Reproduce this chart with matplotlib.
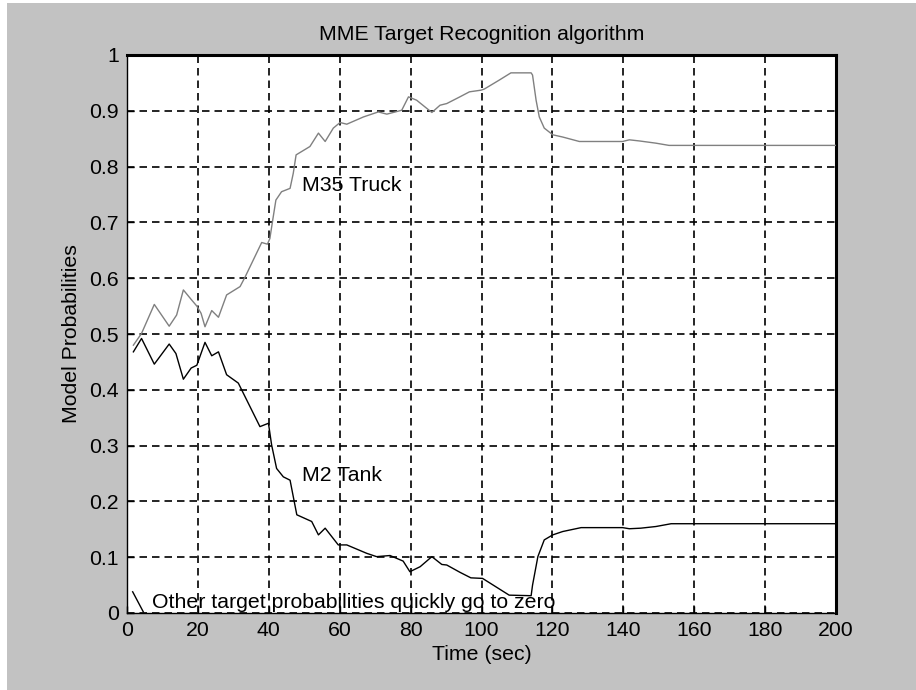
import matplotlib
matplotlib.use('Agg')
import matplotlib.pyplot as plt
from matplotlib.patches import Rectangle

# values
t_truck = [1.8, 4.1, 7.7, 11.9, 14.0, 15.9, 18.1, 19.7, 20.9, 22.0, 23.9, 25.8, 28.1, 31.9, 33.3,
           38.0, 39.6, 40.3, 41.1, 42.0, 43.6, 46.0, 46.9, 47.7, 51.6, 54.0, 55.9, 58.2, 60.1, 62.0,
           66.7, 70.9, 73.3, 77.5, 79.4, 81.7, 86.0, 88.3, 90.2, 93.9, 96.6, 99.9, 100.8, 105.0, 108.3,
           114.0, 114.4, 115.4, 116.3, 117.7, 120.1, 122.9, 127.6, 135.1, 139.8, 141.7, 144.5, 149.2,
           152.9, 200]
p_truck = [0.48, 0.501, 0.553, 0.514, 0.534, 0.579, 0.562, 0.550, 0.537, 0.513, 0.542, 0.530, 0.570,
           0.585, 0.602, 0.664, 0.661, 0.671, 0.704, 0.740, 0.755, 0.761, 0.788, 0.821, 0.836, 0.860,
           0.845, 0.869, 0.879, 0.876, 0.889, 0.898, 0.894, 0.901, 0.925, 0.919, 0.897, 0.910, 0.913,
           0.925, 0.934, 0.937, 0.939, 0.955, 0.968, 0.968, 0.964, 0.919, 0.889, 0.869, 0.857, 0.853,
           0.845, 0.845, 0.845, 0.848, 0.846, 0.842, 0.838, 0.838]

t_tank = [1.8, 4.1, 7.7, 11.9, 13.8, 15.9, 18.1, 19.7, 22.0, 23.9, 25.8, 28.1, 31.4, 37.5, 39.9,
          40.8, 42.2, 44.1, 46.0, 47.9, 52.1, 54.0, 55.9, 59.6, 62.0, 67.6, 70.4, 74.2, 77.9, 79.8,
          82.7, 86.0, 88.8, 90.2, 93.9, 97.0, 100.3, 107.8, 114.0, 114.4, 115.9, 117.7, 120.1, 122.9,
          128.1, 135.1, 139.8, 141.7, 144.9, 149.2, 153.5, 200]
p_tank = [0.468, 0.492, 0.446, 0.482, 0.465, 0.419, 0.439, 0.444, 0.485, 0.461, 0.468, 0.427, 0.412,
          0.334, 0.340, 0.301, 0.259, 0.244, 0.238, 0.176, 0.164, 0.140, 0.152, 0.122, 0.122, 0.107,
          0.101, 0.103, 0.093, 0.074, 0.083, 0.101, 0.087, 0.086, 0.073, 0.063, 0.062, 0.032, 0.031,
          0.050, 0.101, 0.131, 0.140, 0.146, 0.153, 0.153, 0.153, 0.151, 0.152, 0.155, 0.160, 0.160]

t_other = [1.6, 4.6]
p_other = [0.038, 0.002]

x_ticks = [0, 20, 40, 60, 80, 100, 120, 140, 160, 180, 200]
y_ticks = [0, 0.1, 0.2, 0.3, 0.4, 0.5, 0.6, 0.7, 0.8, 0.9, 1]
y_ticklabels = ['0', '0.1', '0.2', '0.3', '0.4', '0.5', '0.6', '0.7', '0.8', '0.9', '1']

plt.rcParams['font.family'] = ['Liberation Sans', 'DejaVu Sans']
fs = 15.3

fig = plt.figure(figsize=(9.16, 6.9), dpi=100, facecolor='white')
# grey MATLAB-style figure background, thin white strip at left/top
fig.patches.append(Rectangle((7 / 916, 0), 1, 1 - 3 / 690, transform=fig.transFigure,
                             facecolor='#c2c2c2', edgecolor='none', zorder=-10))

ax = fig.add_axes([127 / 916, 1 - 613 / 690, (836 - 127) / 916, (613 - 55) / 690])
ax.set_facecolor('white')

ax.plot(t_truck, p_truck, color='#808080', lw=1.0, zorder=3)
ax.plot(t_tank, p_tank, color='black', lw=1.0, zorder=3)
ax.plot(t_other, p_other, color='black', lw=1.0, zorder=3)

ax.set_xlim(0, 200)
ax.set_ylim(0, 1)
ax.set_xticks(x_ticks)
ax.set_yticks(y_ticks)
ax.set_yticklabels(y_ticklabels)
ax.tick_params(direction='in', length=5, width=1, labelsize=fs, pad=6, colors='black')
ax.grid(True, color='black', linestyle=(0, (4.5, 3.0)), linewidth=1.2)

for side in ['left', 'bottom']:
    ax.spines[side].set_linewidth(1.0)
for side in ['top', 'right']:
    ax.spines[side].set_linewidth(2.2)

ax.text(49.3, 0.767, 'M35 Truck', fontsize=fs, va='center', ha='left')
ax.text(49.3, 0.247, 'M2 Tank', fontsize=fs, va='center', ha='left')
ax.text(7.0, 0.019, 'Other target probabilities quickly go to zero', fontsize=fs,
        va='center', ha='left')

ax.set_title('MME Target Recognition algorithm', fontsize=fs, pad=11)
ax.set_xlabel('Time (sec)', fontsize=fs, labelpad=3)
ax.set_ylabel('Model Probabilities', fontsize=fs, labelpad=6)

fig.savefig('out.png', dpi=100, facecolor=fig.get_facecolor())
